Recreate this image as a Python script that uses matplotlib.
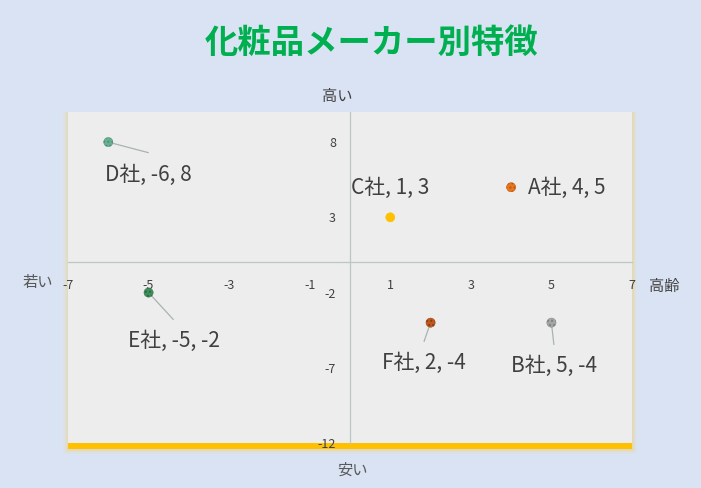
import matplotlib
matplotlib.use('Agg')
import matplotlib.pyplot as plt
from matplotlib.patches import Rectangle

plt.rcParams['font.family'] = ['Noto Sans CJK JP', 'DejaVu Sans']
plt.rcParams['axes.unicode_minus'] = False

# data
companies = ['A社', 'B社', 'C社', 'D社', 'E社', 'F社']
age = [4, 5, 1, -6, -5, 2]
price = [5, -4, 3, 8, -2, -4]
colors = ['#E8771E', '#A5A5A5', '#FFC000', '#6AAF93', '#3F8F5E', '#C05A1C']
edge = ['#B8560E', '#7F7F7F', '#FFC000', '#4E8F72', '#2A6A42', '#8A3C0E']

# label centres (data units) and whether a leader line is drawn
label_x = [5.39, 5.06, 1.0, -5.01, -4.37, 1.84]
label_y = [4.97, -6.9, 4.97, 5.84, -5.24, -6.7]
leader = [False, True, False, True, True, True]
leader_end = [None, (5.06, -5.44), None, (-5.01, 7.3), (-4.39, -3.78), (1.84, -5.24)]

xticks = [-7, -5, -3, -1, 1, 3, 5, 7]
yticks = [-12, -7, -2, 3, 8]

fig = plt.figure(figsize=(7.01, 4.88), dpi=100)
fig.patch.set_facecolor('#DAE3F3')

W, H = 701.0, 488.0
def fr(x0, y0, x1, y1):
    # pixel box (top-left origin) -> figure fraction rect
    return (x0 / W, 1 - y1 / H, (x1 - x0) / W, (y1 - y0) / H)

# glow / shadow behind plot area
for pad, a in [(5, 0.10), (3, 0.18), (1.5, 0.3)]:
    r = fr(68 - pad, 112, 632 + pad, 449 + pad)
    fig.add_artist(Rectangle(r[:2], r[2], r[3], transform=fig.transFigure,
                             facecolor='#F2D27A', alpha=a, edgecolor='none', zorder=0))
r = fr(68, 442, 632, 449)
fig.add_artist(Rectangle(r[:2], r[2], r[3], transform=fig.transFigure,
                         facecolor='#FFC000', edgecolor='none', zorder=0.5))

ax = fig.add_axes(fr(68, 112, 632, 443))
ax.set_zorder(2)
ax.set_facecolor('#EDEDED')
ax.set_xlim(-7, 7)
ax.set_ylim(-12, 10)

for s in ['top', 'right']:
    ax.spines[s].set_visible(False)
ax.spines['left'].set_position('zero')
ax.spines['bottom'].set_position('zero')
ax.spines['left'].set_color('#BCC6C2')
ax.spines['bottom'].set_color('#BCC6C2')
ax.spines['left'].set_linewidth(0.9)
ax.spines['bottom'].set_linewidth(0.9)
ax.set_xticks(xticks)
ax.set_yticks(yticks)
ax.tick_params(length=0, labelsize=9, labelcolor='#404040')
ax.tick_params(axis='x', pad=12)
ax.tick_params(axis='y', pad=10)

for i in range(len(companies)):
    ax.scatter(age[i], price[i], s=44, color=colors[i], hatch='' if i == 2 else '....',
               edgecolor=edge[i], linewidth=0.3, zorder=5)
    if leader[i]:
        ex, ey = leader_end[i]
        ax.plot([age[i], ex], [price[i], ey], color='#A8B4B0', lw=0.9, zorder=4)
    ax.text(label_x[i], label_y[i], f'{companies[i]}, {age[i]}, {price[i]}',
            ha='center', va='center', fontsize=15, color='#404040', zorder=6)

# axis captions
fig.text(337 / W, 1 - 96 / H, '高い', ha='center', va='center', fontsize=11, color='#404040')
fig.text(352 / W, 1 - 470 / H, '安い', ha='center', va='center', fontsize=11, color='#595959')
fig.text(38 / W, 1 - 283 / H, '若い', ha='center', va='center', fontsize=11, color='#595959')
fig.text(664 / W, 1 - 286 / H, '高齢', ha='center', va='center', fontsize=11, color='#404040')

fig.text(372 / W, 1 - 43 / H, '化粧品メーカー別特徴', ha='center', va='center',
         fontsize=24, fontweight='bold', color='#00B050')

fig.savefig('out.png', dpi=100, facecolor=fig.get_facecolor())
